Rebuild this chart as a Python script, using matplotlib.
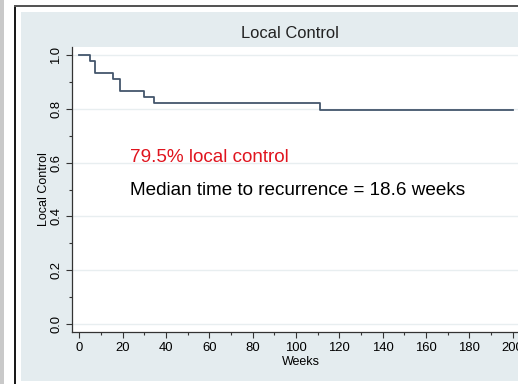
import matplotlib
matplotlib.use("Agg")
import matplotlib.pyplot as plt
from matplotlib.patches import Rectangle
from matplotlib.ticker import MultipleLocator

plt.rcParams['font.family'] = ['Liberation Sans', 'DejaVu Sans']

# Kaplan-Meier step data (weeks, survival)
times = [0, 5.1, 7.3, 15.5, 18.7, 30.0, 34.5, 111.2, 200.0]
surv = [1.0, 0.978, 0.934, 0.912, 0.867, 0.845, 0.823, 0.795, 0.795]
x_ticks = [0, 20, 40, 60, 80, 100, 120, 140, 160, 180, 200]
y_ticks = [0.0, 0.2, 0.4, 0.6, 0.8, 1.0]
title = "Local Control"
note_red = "79.5% local control"
note_black = "Median time to recurrence = 18.6 weeks"

W, H = 518, 384
fig = plt.figure(figsize=(W / 100, H / 100), dpi=100)
fig.patch.set_facecolor("white")

def px_rect(x0, y0, x1, y1, color, z=-5):
    fig.patches.append(Rectangle((x0 / W, 1 - y1 / H), (x1 - x0) / W, (y1 - y0) / H,
                                 transform=fig.transFigure, facecolor=color,
                                 edgecolor="none", zorder=z))

px_rect(0, 0, 4, H, "#c9c9c9")
px_rect(14, 5, 15.5, H, "#1a1a1a")
px_rect(14, 5, W, 7, "#555555")
px_rect(21, 12, W, 381, "#e4ecef")

ax = fig.add_axes([72 / W, 1 - 332 / H, (530 - 72) / W, (332 - 47) / H])
ax.set_facecolor("white")
ax.step(times, surv, where="post", color="#44566c", lw=1.3)

ax.set_xlim(-3.3, 208)
ax.set_ylim(-0.03, 1.03)
ax.set_xticks(x_ticks)
ax.set_xticklabels([str(t) for t in x_ticks])
ax.xaxis.set_minor_locator(MultipleLocator(10))
ax.set_yticks(y_ticks)
ax.set_yticklabels([f"{t:.1f}" for t in y_ticks], rotation=90, va="center")
ax.yaxis.set_minor_locator(MultipleLocator(0.1))
ax.tick_params(which="major", length=4, width=0.8, color="#333333", labelsize=9.4, pad=3)
ax.tick_params(which="minor", length=2.5, width=0.8, color="#333333")
ax.grid(axis="y", which="major", color="#e8eef0", lw=1)
ax.set_axisbelow(True)
for s in ["top", "right"]:
    ax.spines[s].set_visible(False)
for s in ["left", "bottom"]:
    ax.spines[s].set_color("#333333")
    ax.spines[s].set_linewidth(0.9)

ax.set_xlabel("Weeks", fontsize=9, labelpad=1.5)
ax.set_ylabel("Local Control", fontsize=9, labelpad=0)
fig.text(290 / W, 1 - 34 / H, title, ha="center", va="center", fontsize=11.9, color="#222222")

ax.text(130 / W, 1 - 158 / H, note_red, transform=fig.transFigure, color="#e0141e",
        fontsize=13.6, va="center", ha="left")
ax.text(130 / W, 1 - 191 / H, note_black, transform=fig.transFigure, color="black",
        fontsize=13.6, va="center", ha="left")

fig.savefig("out.png", dpi=100)
